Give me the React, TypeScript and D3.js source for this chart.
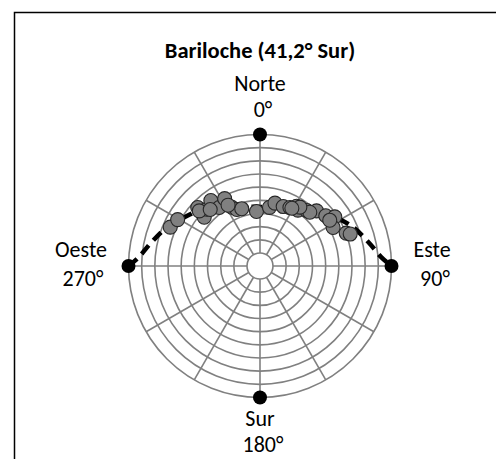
import React from "react";
import * as d3 from "d3";

// Observed sun positions (azimuth deg clockwise from north, elevation deg)
const obsAzimuth = [293.4, 299.4, 313.2, 311.2, 316.9, 323.1, 325.1, 332.3, 334.4, 337.7, 342.3, 356.3,
  9.2, 13.4, 21.3, 27.1, 31.5, 34.2, 40.0, 45.7, 52.6, 56.7, 62.2, 69.1, 70.5,
  312.2, 318.6, 332.3, 42.8, 56.7, 34.1, 28.9];
const obsElevation = [25.6, 28.1, 35.0, 43.6, 40.8, 37.7, 45.7, 42.1, 50.4, 53.5, 54.2, 58.4,
  54.8, 50.8, 51.4, 50.0, 46.7, 48.6, 44.8, 39.9, 37.0, 31.9, 37.1, 29.8, 27.2,
  37.6, 42.7, 47.7, 44.2, 36.5, 45.9, 49.8];

// Theoretical path (dashed)
const pathAzimuth = [270, 274.2, 281.6, 292.7, 306.6, 315.5, 335.6, 360, 24.4, 44.5, 53.4, 67.3, 78.4, 85.8, 90];
const pathElevation = [0, 7.6, 14.9, 23.4, 33.9, 38.3, 50.4, 55.0, 50.4, 38.3, 33.9, 23.4, 14.9, 7.6, 0];

// Cardinal markers
const cardinalAzimuth = [0, 90, 180, 270];
const cardinalElevation = [0, 0, 0, 0];

const ringElevations = [0, 10, 20, 30, 40, 50, 60, 70, 80, 90];
const spokeAzimuths = [0, 30, 60, 90, 120, 150, 180, 210, 240, 270, 300, 330];

const title = "Bariloche (41,2° Sur)";

export default function App() {
  const W = 496, H = 459;
  const cx = 260, cy = 266;
  const R = 131.5, r0 = 13;
  const r = d3.scaleLinear().domain([0, 90]).range([R, r0]);
  const toXY = (az: number, el: number): [number, number] => {
    const a = (az * Math.PI) / 180;
    const rr = r(el);
    return [cx + rr * Math.sin(a), cy - rr * Math.cos(a)];
  };
  const grid = "#808080";
  const pathData = pathAzimuth.map((a, i) => ({ a, e: pathElevation[i] }));
  const line = d3
    .lineRadial<{ a: number; e: number }>()
    .angle((d) => (d.a * Math.PI) / 180)
    .radius((d) => r(d.e))
    .curve(d3.curveCatmullRom);
  const font = "Calibri, Carlito, Lato, sans-serif";
  const fs = 22;
  return (
    <svg width={W} height={H} style={{ position: "absolute", left: 0, top: 0, background: "#fff" }}>
      <rect x={14.5} y={12.5} width={520} height={500} fill="#fff" stroke="#000" strokeWidth={1.5} />
      <g>
        {ringElevations.map((e) => (
          <circle key={e} cx={cx} cy={cy} r={r(e)} fill={e === 90 ? "#fff" : "none"} stroke={grid} strokeWidth={1.6} />
        ))}
        {spokeAzimuths.map((a) => {
          const [x1, y1] = toXY(a, 90);
          const [x2, y2] = toXY(a, 0);
          return <line key={a} x1={x1} y1={y1} x2={x2} y2={y2} stroke={grid} strokeWidth={1.6} />;
        })}
      </g>
      <path
        d={line(pathData) || ""}
        transform={`translate(${cx},${cy})`}
        fill="none"
        stroke="#000"
        strokeWidth={4.5}
        strokeDasharray="11,7"
      />
      {obsAzimuth.map((a, i) => {
        const [x, y] = toXY(a, obsElevation[i]);
        return <circle key={i} cx={x} cy={y} r={7} fill="#808080" stroke="#262626" strokeWidth={1.1} />;
      })}
      {cardinalAzimuth.map((a, i) => {
        const [x, y] = toXY(a, cardinalElevation[i]);
        return <circle key={a} cx={x} cy={y} r={7} fill="#000" />;
      })}
      <g fontFamily={font} fill="#000" textAnchor="middle">
        <text x={260} y={58} fontSize={22.5} fontWeight="bold">{title}</text>
        <text x={260} y={91} fontSize={fs}>Norte</text>
        <text x={263} y={117} fontSize={fs}>0°</text>
        <text x={260} y={426} fontSize={fs}>Sur</text>
        <text x={263} y={452} fontSize={fs}>180°</text>
        <text x={81} y={257} fontSize={fs}>Oeste</text>
        <text x={83} y={286} fontSize={fs}>270°</text>
        <text x={432} y={257} fontSize={fs}>Este</text>
        <text x={435} y={286} fontSize={fs}>90°</text>
      </g>
    </svg>
  );
}
